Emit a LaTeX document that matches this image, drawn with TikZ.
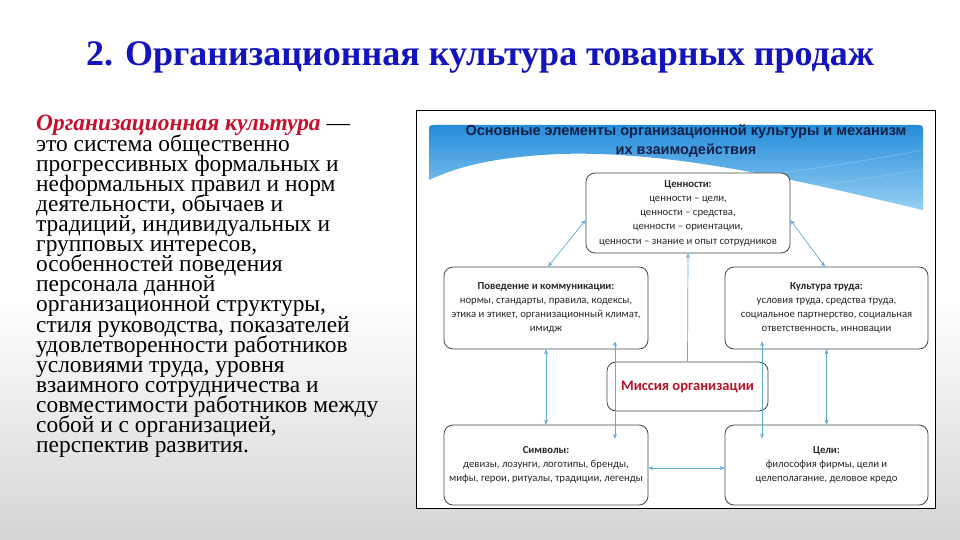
\documentclass[tikz,border=0pt]{standalone}
\usepackage{fontspec}
\setmainfont{Liberation Serif}
\newfontfamily\boxfont{Carlito}
\newfontfamily\hfont{Liberation Sans}
\usetikzlibrary{arrows.meta,calc}
\definecolor{titleblue}{RGB}{20,20,190}
\definecolor{defred}{RGB}{200,16,46}
\definecolor{bggray}{RGB}{212,212,212}
\definecolor{banTop}{RGB}{38,140,218}
\definecolor{banBot}{RGB}{150,208,243}
\definecolor{hdrnavy}{RGB}{20,32,70}
\definecolor{boxline}{RGB}{60,75,75}
\definecolor{conncol}{RGB}{95,170,215}
\definecolor{misred}{RGB}{180,20,40}
\definecolor{boxtext}{RGB}{40,40,40}
\begin{document}
\begin{tikzpicture}[x=1pt,y=-1pt,
  lefttext/.style={anchor=base west, inner sep=0pt, font=\fontsize{23.4}{25}\selectfont},
  elbox/.style={draw=boxline, line width=0.8pt, rounded corners=9pt, fill=white, align=center,
    inner sep=0pt, text=boxtext, font=\boxfont\fontsize{10.7}{14.25}\selectfont},
  conn/.style={draw=conncol, line width=0.7pt, {Stealth[length=5pt,width=4pt]}-{Stealth[length=5pt,width=4pt]}},
  connone/.style={draw=conncol, line width=0.7pt, -{Stealth[length=5pt,width=4pt]}}
]
\useasboundingbox (0,0) rectangle (960,540);
% slide background
\fill[white] (0,0) rectangle (960,300);
\shade[top color=white, bottom color=bggray] (0,300) rectangle (960,540);

% title
\node[anchor=base, inner sep=0pt, text=titleblue, font=\fontsize{36}{40}\selectfont\bfseries] (title) at (480,66)
  {2. Организационная культура товарных продаж};

% left text
\node[lefttext] (l0) at (36,131) {\textcolor{defred}{\textbf{\textit{Организационная культура}}} —};
\foreach \t [count=\i] in {{это система общественно},{прогрессивных формальных и},{неформальных правил и норм},
  {деятельности, обычаев и},{традиций, индивидуальных и},{групповых интересов,},{особенностей поведения},
  {персонала данной},{организационной структуры,},{стиля руководства, показателей},
  {удовлетворенности работников},{условиями труда, уровня},{взаимного сотрудничества и},
  {совместимости работников между},{собой и с организацией,},{перспектив развития.}}
  \node[lefttext] (l\i) at (36,131+20.1*\i) {\t};

% panel
\node[draw=black, line width=0.8pt, fill=white, minimum width=519pt, minimum height=398pt, inner sep=0pt] (panel) at (675.5,309) {};

% banner
\shade[top color=banTop, bottom color=banBot]
  (429,180) -- (429,132) .. controls (429,125) .. (436,125) -- (916,125) .. controls (923,125) .. (923,132)
  -- (923,210) .. controls (820,186) and (680,150) .. (560,154) .. controls (490,157) and (455,168) .. (429,180) -- cycle;
\draw[white, opacity=0.18, line width=1pt] (740,178) .. controls (810,170) and (870,160) .. (923,150);
\draw[white, opacity=0.14, line width=1pt] (790,190) .. controls (840,182) and (885,176) .. (923,170);
\node[align=center, inner sep=0pt, text=hdrnavy, font=\hfont\bfseries\fontsize{14.5}{19}\selectfont] (hdr) at (686,141)
  {Основные элементы организационной культуры и механизм\\их взаимодействия};

% element boxes
\node[elbox, minimum width=204pt, minimum height=80pt] (val) at (688,213)
  {\textbf{Ценности:}\\ценности – цели,\\ценности – средства,\\ценности – ориентации,\\ценности – знание и опыт сотрудников};
\node[elbox, minimum width=204pt, minimum height=82pt] (beh) at (546,308)
  {\textbf{Поведение и коммуникации:}\\нормы, стандарты, правила, кодексы,\\этика и этикет, организационный климат,\\имидж};
\node[elbox, minimum width=203pt, minimum height=82pt] (lab) at (826.5,308)
  {\textbf{Культура труда:}\\условия труда, средства труда,\\социальное партнерство, социальная\\ответственность, инновации};
\node[elbox, minimum width=161pt, minimum height=49pt, text=misred, font=\boxfont\bfseries\fontsize{14.5}{16}\selectfont] (mis) at (687.5,386.5)
  {Миссия организации};
\node[elbox, minimum width=204pt, minimum height=80pt] (sym) at (546,465)
  {\textbf{Символы:}\\девизы, лозунги, логотипы, бренды,\\мифы, герои, ритуалы, традиции, легенды};
\node[elbox, minimum width=203pt, minimum height=80pt] (goal) at (826.5,465)
  {\textbf{Цели:}\\философия фирмы, цели и\\целеполагание, деловое кредо};

% connectors
\coordinate (xl) at (615,0);
\coordinate (xr) at (762,0);
\draw[conn] ([xshift=2pt]beh.north) -- ([yshift=-7pt]val.west);
\draw[conn] ([yshift=-7pt]val.east) -- ([xshift=-1.5pt]lab.north);
\draw[connone] (mis.north) -- (val.south);
\draw[conn] (beh.south) -- (sym.north);
\draw[conn] (lab.south) -- (goal.north);
\draw[conn] ($(beh.south -| xl)+(0,-8)$) -- ($(sym.north -| xl)+(0,14)$);
\draw[conn] ($(lab.south -| xr)+(0,-8)$) -- ($(goal.north -| xr)+(0,14)$);
\draw[conn] ([yshift=-3pt]sym.east) -- ([yshift=-3pt]goal.west);
\end{tikzpicture}
\end{document}
